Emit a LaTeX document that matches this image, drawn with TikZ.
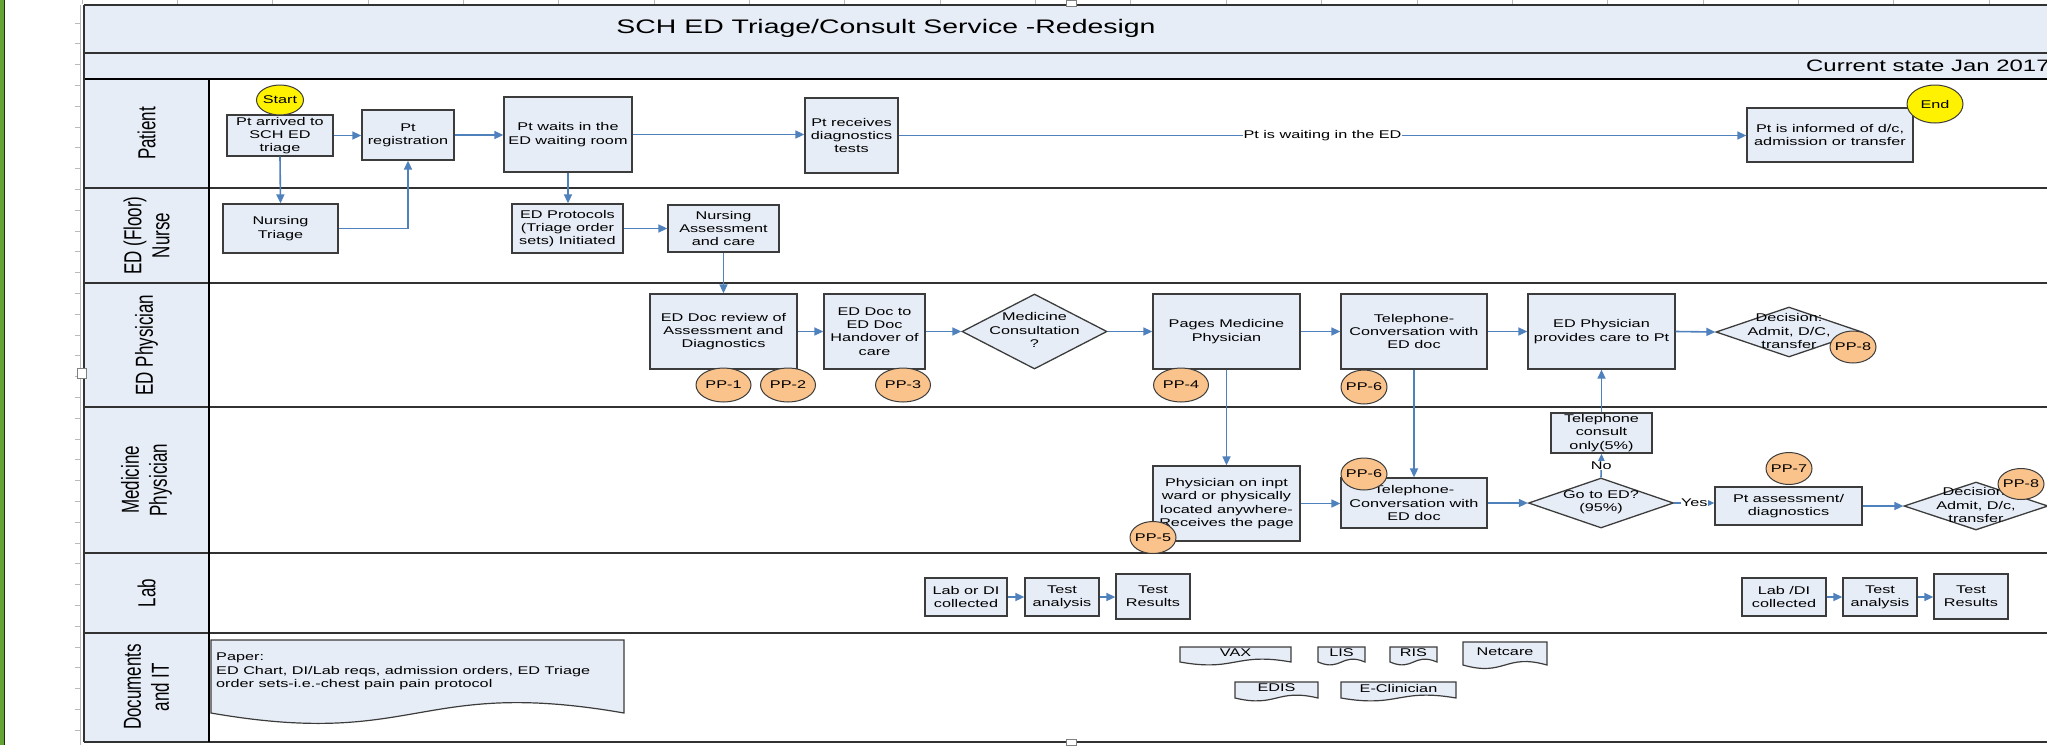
\documentclass[tikz,border=0pt]{standalone}
\usepackage{fontspec}
\setmainfont[FakeStretch=1.45]{Liberation Sans}
\newfontfamily\lanefont[FakeStretch=0.69]{Liberation Sans}
\usetikzlibrary{shapes.geometric,arrows.meta}
\definecolor{boxfill}{RGB}{231,237,247}
\definecolor{bordc}{RGB}{60,60,60}
\definecolor{sepc}{RGB}{50,50,50}
\definecolor{linec}{RGB}{79,129,189}
\definecolor{ppfill}{RGB}{250,195,140}
\definecolor{grn}{RGB}{98,165,52}
\definecolor{rulec}{RGB}{185,185,185}
\newcommand\boxfnt{\fontsize{11.2}{13.3}\selectfont}
\newcommand\lanefnt{\lanefont\fontsize{24.6}{28}\selectfont}
\newcommand\titlefnt{\fontsize{19.6}{23}\selectfont}
\newcommand\subfnt{\fontsize{16.5}{19}\selectfont}
\begin{document}
\begin{tikzpicture}[x=1pt,y=-1pt,
 box/.style={draw=bordc,line width=1.3pt,fill=boxfill,inner sep=0pt,align=center,font=\boxfnt},
 dia/.style={diamond,draw=bordc,line width=1.3pt,fill=boxfill,inner sep=0pt},
 txt/.style={inner sep=0pt,align=center,font=\boxfnt},
 pp/.style={ellipse,draw=bordc,line width=1pt,fill=ppfill,inner sep=0pt},
 term/.style={ellipse,draw=bordc,line width=1pt,fill=yellow,inner sep=0pt},
 conn/.style={draw=linec,line width=1.6pt,-{Triangle[length=9pt,width=8pt]}},
 lanelbl/.style={rotate=90,align=center,inner sep=0pt,font=\lanefnt},
 sep/.style={draw=sepc,line width=2pt},
 docshape/.style={draw=bordc,line width=1.2pt,fill=boxfill}
]
\useasboundingbox (0,0) rectangle (2047,745);
\fill[white] (0,0) rectangle (2047,745);
% green bar and rulers
\fill[grn] (0,0) rectangle (4,745);
\draw[black!70!grn,line width=0.8pt] (4.2,0) -- (4.2,745);
\foreach \k in {0,...,20} \draw[rulec,line width=0.8pt] ({82+95.35*\k},0) -- ++(0,4);
\draw[rulec,line width=0.8pt] (80,5) -- (80,745);
\foreach \k in {0,...,34} \draw[rulec,line width=0.7pt] (75,{23+20.8*\k}) -- (80,{23+20.8*\k});
% bands
\fill[boxfill] (84,5) rectangle (2047,79);
\fill[boxfill] (84,79) rectangle (209,742);
\draw[sep] (84,5) -- (2047,5);
\draw[sep,line width=2.4pt] (84,53) -- (2047,53);
\draw[sep,draw=black] (84,79) -- (2047,79);
\foreach \yy in {188,283,407,553,633} \draw[sep] (84,\yy) -- (2047,\yy);
\draw[sep] (84,742) -- (2047,742);
\draw[sep] (84,5) -- (84,742);
\draw[sep,draw=black,line width=1.6pt] (209,79) -- (209,742);
% handles
\draw[fill=white,draw=gray,line width=0.6pt] (1066,0) rectangle (1076,6);
\draw[fill=white,draw=gray,line width=0.6pt] (1066,739) rectangle (1076,745);
\draw[fill=white,draw=gray,line width=0.6pt] (77,368) rectangle (86,378);
% titles
\node[font=\titlefnt,inner sep=0pt] (title) at (886,28) {SCH ED Triage/Consult Service -Redesign};
\node[font=\subfnt,inner sep=0pt,anchor=west] (subtitle) at (1806,66) {Current state Jan 2017};
% lane labels
\node[lanelbl] (lpat) at (146.5,133.5) {Patient};
\node[lanelbl] (lnur) at (146.5,235.5) {ED (Floor)\\Nurse};
\node[lanelbl] (ledp) at (146.5,345) {ED Physician};
\node[lanelbl] (lmed) at (146.5,480) {Medicine\\Physician};
\node[lanelbl] (llab) at (146.5,593) {Lab};
\node[lanelbl] (ldoc) at (146.5,687) {Documents\\and IT};
% Patient lane
\node[box,minimum width=106pt,minimum height=41pt] (arr) at (280,135.5) {Pt arrived to\\SCH ED\\triage};
\node[box,minimum width=92pt,minimum height=50pt] (reg) at (408,135) {Pt\\registration};
\node[box,minimum width=128pt,minimum height=75pt] (wait) at (568,134.5) {Pt waits in the\\ED waiting room};
\node[box,minimum width=93pt,minimum height=75pt] (recv) at (851.5,135.5) {Pt receives\\diagnostics\\tests};
\node[box,minimum width=166pt,minimum height=54pt] (inform) at (1830,135) {Pt is informed of d/c,\\admission or transfer};
% Nurse lane
\node[box,minimum width=115pt,minimum height=49pt] (ntri) at (280.5,228.5) {Nursing\\Triage};
\node[box,minimum width=111pt,minimum height=49pt] (prot) at (567.5,228.5) {ED Protocols\\(Triage order\\sets) Initiated};
\node[box,minimum width=111pt,minimum height=47pt] (nass) at (723.5,228.5) {Nursing\\Assessment\\and care};
% ED physician lane
\node[box,minimum width=147pt,minimum height=75pt] (rev) at (723.5,331.5) {ED Doc review of\\Assessment and\\Diagnostics};
\node[box,minimum width=101pt,minimum height=75pt] (hand) at (874.5,331.5) {ED Doc to\\ED Doc\\Handover of\\care};
\node[dia,minimum width=145pt,minimum height=75pt] (medc) at (1034.5,331.5) {};
\node[txt] (medct) at (1034.5,330) {Medicine\\Consultation\\?};
\node[box,minimum width=147pt,minimum height=75pt] (pages) at (1226.5,331.5) {Pages Medicine\\Physician};
\node[box,minimum width=146pt,minimum height=75pt] (tel1) at (1414,331.5) {Telephone-\\Conversation with\\ED doc};
\node[box,minimum width=147pt,minimum height=75pt] (edcare) at (1601.5,331.5) {ED Physician\\provides care to Pt};
\node[dia,minimum width=146pt,minimum height=50pt] (dec1) at (1789,332) {};
\node[txt] (dec1t) at (1789,331) {Decision:\\Admit, D/C,\\transfer};
% Medicine physician lane
\node[box,minimum width=147pt,minimum height=75pt] (inpt) at (1226.5,503.5) {Physician on inpt\\ward or physically\\located anywhere-\\Receives the page};
\node[box,minimum width=146pt,minimum height=50pt] (tel2) at (1414,503) {Telephone-\\Conversation with\\ED doc};
\node[dia,minimum width=145pt,minimum height=50pt] (goed) at (1601,503) {};
\node[txt] (goedt) at (1601,502) {Go to ED?\\(95\%)};
\node[box,minimum width=101pt,minimum height=40pt] (tcons) at (1601.5,433) {Telephone\\consult\\only(5\%)};
\node[box,minimum width=147pt,minimum height=38pt] (ptass) at (1788.5,506) {Pt assessment/\\diagnostics};
\node[dia,minimum width=144pt,minimum height=48pt] (dec2) at (1976,506) {};
\node[txt] (dec2t) at (1976,505) {Decision:\\Admit, D/c,\\transfer};
% Lab lane
\node[box,minimum width=82pt,minimum height=38pt] (lab1) at (966,597) {Lab or DI\\collected};
\node[box,minimum width=74pt,minimum height=38pt] (ana1) at (1062,597) {Test\\analysis};
\node[box,minimum width=74pt,minimum height=45pt] (res1) at (1153,596.5) {Test\\Results};
\node[box,minimum width=84pt,minimum height=38pt] (lab2) at (1784,597) {Lab /DI\\collected};
\node[box,minimum width=74pt,minimum height=38pt] (ana2) at (1880,597) {Test\\analysis};
\node[box,minimum width=74pt,minimum height=45pt] (res2) at (1971,596.5) {Test\\Results};
% Documents lane
\draw[docshape] (211,640) -- (624,640) -- (624,713) .. controls (417.5,677) and (417.5,749) .. (211,713) -- cycle;
\node[txt,align=left,anchor=north west] (paper) at (216,653) {Paper:\\ED Chart, DI/Lab reqs, admission orders, ED Triage\\order sets-i.e.-chest pain pain protocol};
\draw[docshape] (1180,647) -- (1291,647) -- (1291,662) .. controls (1235.5,652) and (1235.5,672) .. (1180,662) -- cycle;
\node[txt] (vax) at (1235.5,653) {VAX};
\draw[docshape] (1318,647) -- (1365,647) -- (1365,662) .. controls (1341.5,652) and (1341.5,672) .. (1318,662) -- cycle;
\node[txt] (lis) at (1341.5,653) {LIS};
\draw[docshape] (1390,647) -- (1437,647) -- (1437,662) .. controls (1413.5,652) and (1413.5,672) .. (1390,662) -- cycle;
\node[txt] (ris) at (1413.5,653) {RIS};
\draw[docshape] (1463,642) -- (1547,642) -- (1547,665) .. controls (1505,653) and (1505,677) .. (1463,665) -- cycle;
\node[txt] (netc) at (1505,651.5) {Netcare};
\draw[docshape] (1235,682) -- (1318,682) -- (1318,698) .. controls (1276.5,688) and (1276.5,708) .. (1235,698) -- cycle;
\node[txt] (edis) at (1276.5,688) {EDIS};
\draw[docshape] (1341,682) -- (1456,682) -- (1456,698) .. controls (1398.5,688) and (1398.5,708) .. (1341,698) -- cycle;
\node[txt] (eclin) at (1398.5,688) {E-Clinician};
% connectors
\draw[conn] (arr.east) -- (arr.east -| reg.west);
\draw[conn] (reg.east) -- (reg.east -| wait.west);
\draw[conn] (wait.east) -- (wait.east -| recv.west);
\draw[conn] (recv.east) -- node[fill=white,inner sep=1pt,font=\boxfnt] (waitlbl) {Pt is waiting in the ED} (recv.east -| inform.west);
\draw[conn] (arr.south) -- (ntri.north);
\draw[conn] (ntri.east) -| (reg.south);
\draw[conn] (wait.south) -- (wait.south |- prot.north);
\draw[conn] (prot.east) -- (nass.west);
\draw[conn] (nass.south) -- (nass.south |- rev.north);
\draw[conn] (rev.east) -- (hand.west);
\draw[conn] (hand.east) -- (medc.west);
\draw[conn] (medc.east) -- (pages.west);
\draw[conn] (pages.east) -- (tel1.west);
\draw[conn] (tel1.east) -- (edcare.west);
\draw[conn] (edcare.east) -- (dec1.west);
\draw[conn] (pages.south) -- (inpt.north);
\draw[conn] (tel1.south) -- (tel2.north);
\draw[conn] (inpt.east) -- (inpt.east -| tel2.west);
\draw[conn] (tel2.east) -- (goed.west);
\draw[conn] (goed.north) -- node[fill=white,inner sep=0.5pt,font=\boxfnt] (nolbl) {No} (tcons.south);
\draw[conn] (tcons.north) -- (edcare.south);
\draw[conn] (goed.east) -- node[fill=white,inner sep=0.5pt,font=\boxfnt] (yeslbl) {Yes} (goed.east -| ptass.west);
\draw[conn] (ptass.east) -- (ptass.east -| dec2.west);
\draw[conn] (lab1.east) -- (ana1.west);
\draw[conn] (ana1.east) -- (ana1.east -| res1.west);
\draw[conn] (lab2.east) -- (ana2.west);
\draw[conn] (ana2.east) -- (ana2.east -| res2.west);
% terminators and pain points
\node[term,minimum width=47pt,minimum height=30pt,label={[txt]center:Start}] (start) at (280,100) {};
\node[term,minimum width=56pt,minimum height=38pt,label={[txt]center:End}] (end) at (1935,104) {};
\node[pp,minimum width=55pt,minimum height=34pt,label={[txt]center:PP-1}] (pp1) at (723.5,385) {};
\node[pp,minimum width=55pt,minimum height=34pt,label={[txt]center:PP-2}] (pp2) at (788,385) {};
\node[pp,minimum width=55pt,minimum height=34pt,label={[txt]center:PP-3}] (pp3) at (903,385) {};
\node[pp,minimum width=55pt,minimum height=34pt,label={[txt]center:PP-4}] (pp4) at (1181,385) {};
\node[pp,minimum width=46pt,minimum height=34pt,label={[txt]center:PP-6}] (pp6a) at (1364,387) {};
\node[pp,minimum width=46pt,minimum height=32pt,label={[txt]center:PP-8}] (pp8a) at (1853,347) {};
\node[pp,minimum width=46pt,minimum height=32pt,label={[txt]center:PP-5}] (pp5) at (1153,537.5) {};
\node[pp,minimum width=46pt,minimum height=32pt,label={[txt]center:PP-6}] (pp6b) at (1364,474) {};
\node[pp,minimum width=46pt,minimum height=32pt,label={[txt]center:PP-7}] (pp7) at (1789,468.5) {};
\node[pp,minimum width=46pt,minimum height=31pt,label={[txt]center:PP-8}] (pp8b) at (2021,484) {};
\end{tikzpicture}
\end{document}
